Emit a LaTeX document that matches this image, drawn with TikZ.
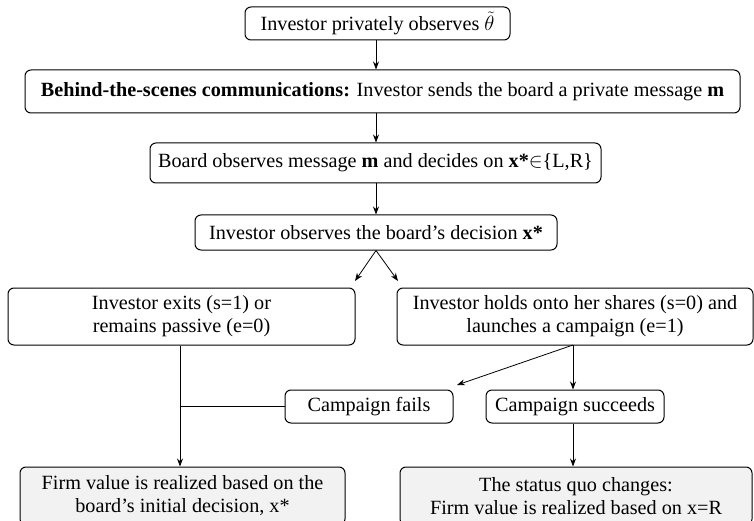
\documentclass[tikz,border=0pt]{standalone}
\usepackage{fontspec}
\setmainfont{Liberation Serif}
\usetikzlibrary{arrows.meta}
\begin{document}
\begin{tikzpicture}[x=1pt,y=-1pt,
  box/.style={draw, rounded corners=6pt, line width=1pt, align=center, inner sep=0pt,
    font=\fontsize{20.2}{23}\selectfont},
  endbox/.style={box, fill=black!5},
  arr/.style={-{Stealth[length=8pt,width=6pt]}, line width=0.8pt},
  ln/.style={line width=0.8pt}]
\useasboundingbox (0,0) rectangle (754,521);
\clip (0,0) rectangle (754,521);
\node[box, minimum width=265pt, minimum height=33pt] (a) at (377.5,23.5) {Investor privately observes $\tilde{\theta}$};
\node[box, minimum width=715pt, minimum height=43pt] (b) at (382.5,91.5) {\textbf{Behind-the-scenes communications:} Investor sends the board a private message \textbf{m}};
\node[box, minimum width=451pt, minimum height=40pt] (c) at (375.5,163) {Board observes message \textbf{m} and decides on \textbf{x*}$\in$\{L,R\}};
\node[box, minimum width=362pt, minimum height=35pt] (d) at (376,232.5) {Investor observes the board’s decision \textbf{x*}};
\node[box, minimum width=347pt, minimum height=57pt] (e) at (181.5,316.5) {Investor exits (s=1) or\\remains passive (e=0)};
\node[box, minimum width=356pt, minimum height=57pt] (f) at (575,316.5) {Investor holds onto her shares (s=0) and\\launches a campaign (e=1)};
\node[box, minimum width=168pt, minimum height=33pt] (g) at (369,406.5) {Campaign fails};
\node[box, minimum width=178pt, minimum height=33pt] (h) at (575,406.5) {Campaign succeeds};
\node[endbox, minimum width=325pt, minimum height=58pt] (i) at (182.5,496) {Firm value is realized based on the\\board’s initial decision, x*};
\node[endbox, minimum width=352pt, minimum height=58pt] (j) at (576,496) {The status quo changes:\\Firm value is realized based on x=R};
\coordinate (dl) at (355,281);
\coordinate (dr) at (398,281);
\coordinate (fs) at (573,345);
\coordinate (gt) at (457,385);
\coordinate (ej) at (180,406.5);
\draw[arr] (a.south -| 376,0) -- (b.north -| 376,0);
\draw[arr] (b.south -| 376,0) -- (c.north -| 376,0);
\draw[arr] (c.south -| 376,0) -- (d.north -| 376,0);
\draw[arr] (d.south) -- (dl);
\draw[arr] (d.south) -- (dr);
\draw[arr] (fs) -- (gt);
\draw[arr] (fs) -- (h.north -| fs);
\draw[arr] (e.south -| ej) -- (i.north -| ej);
\draw[ln] (g.west) -- (g.west -| ej);
\draw[arr] (h.south -| fs) -- (j.north -| fs);
\end{tikzpicture}
\end{document}
